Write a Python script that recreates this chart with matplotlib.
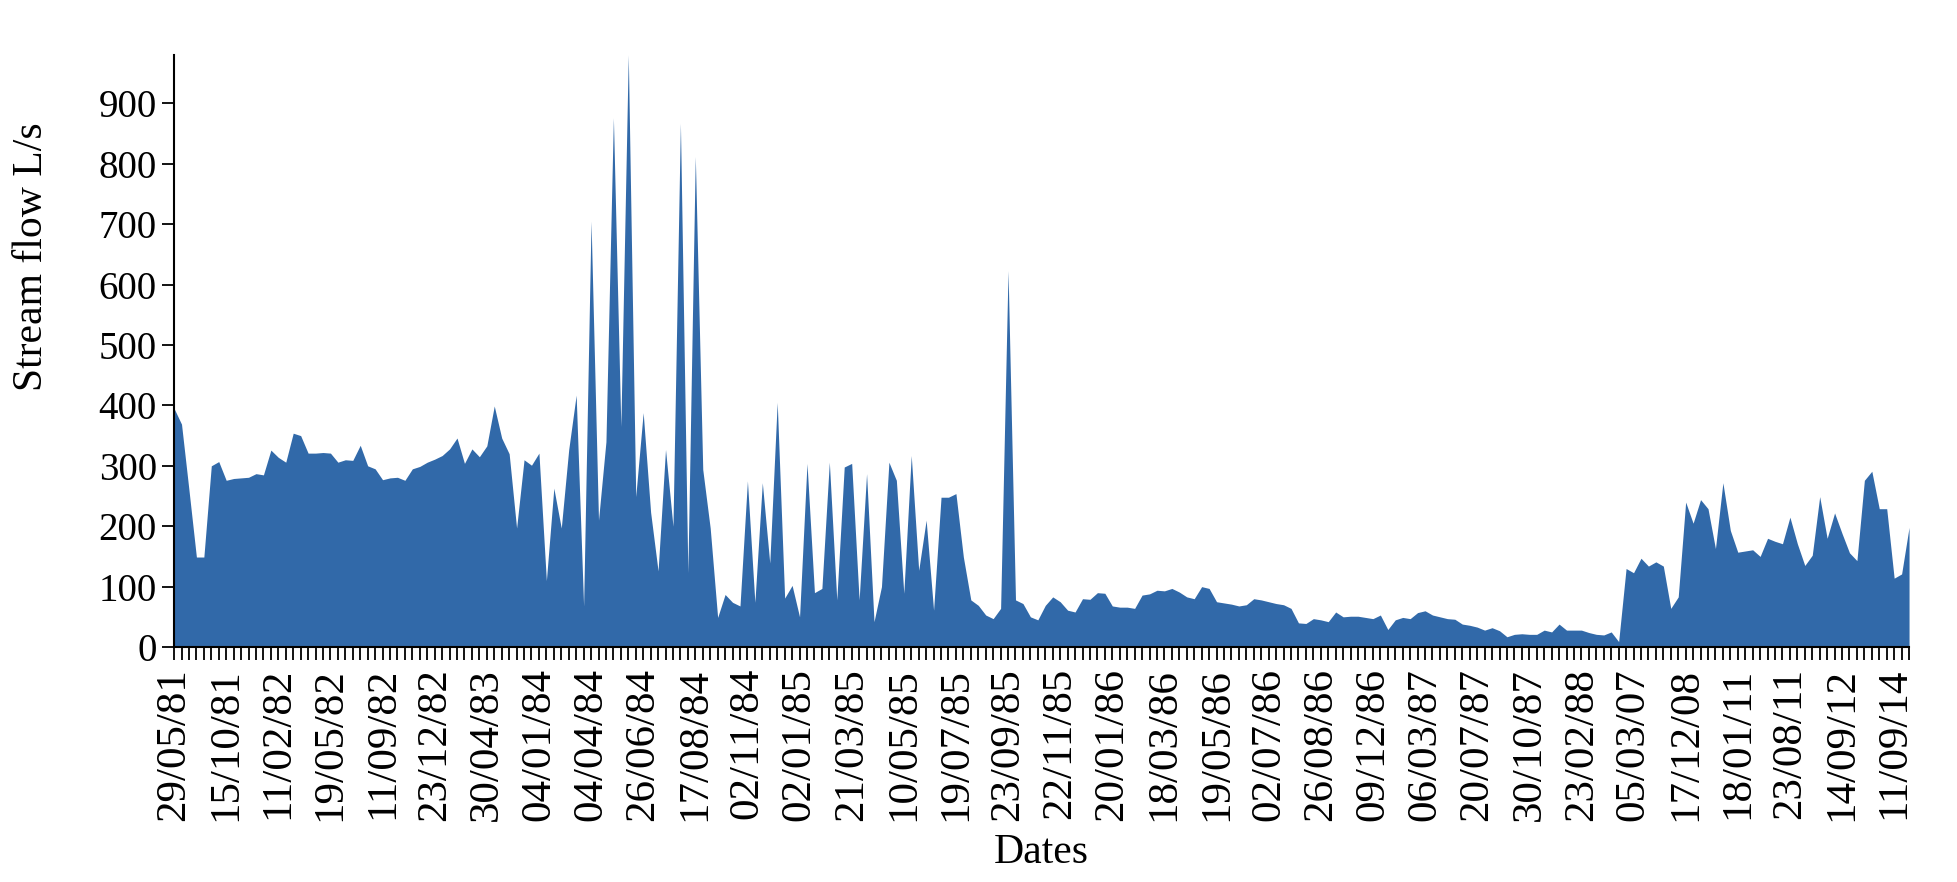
import numpy as np
import matplotlib as mpl
import matplotlib.pyplot as plt
from matplotlib.ticker import MultipleLocator

mpl.rcParams['font.family'] = 'Liberation Serif'

# stream flow (L/s), one value per sampling date
flow = [
    395, 369, 260, 149, 149, 300, 307, 276, 279, 280,
    281, 287, 285, 326, 314, 306, 354, 350, 321, 321,
    322, 321, 306, 310, 309, 334, 300, 295, 277, 280,
    281, 276, 295, 299, 306, 311, 317, 328, 346, 304,
    328, 315, 333, 399, 346, 320, 197, 310, 301, 321,
    110, 263, 197, 327, 417, 68, 705, 210, 340, 876,
    365, 980, 249, 388, 223, 126, 327, 200, 867, 123,
    812, 294, 197, 49, 87, 74, 68, 275, 74, 272,
    139, 405, 81, 102, 50, 304, 90, 97, 306, 78,
    298, 304, 78, 287, 42, 100, 306, 276, 89, 317,
    127, 210, 61, 248, 248, 254, 149, 78, 69, 53,
    47, 64, 623, 78, 72, 50, 45, 69, 83, 75,
    61, 58, 80, 79, 90, 89, 68, 66, 66, 64,
    86, 88, 94, 93, 97, 91, 83, 80, 100, 97,
    75, 73, 71, 68, 70, 80, 78, 75, 72, 70,
    64, 40, 39, 47, 45, 42, 58, 50, 51, 51,
    49, 47, 53, 29, 45, 49, 47, 57, 60, 53,
    50, 47, 46, 38, 36, 33, 28, 32, 27, 17,
    21, 22, 21, 21, 28, 25, 38, 28, 28, 28,
    24, 21, 20, 25, 9, 130, 123, 147, 134, 141,
    134, 64, 83, 240, 205, 244, 229, 163, 272, 193,
    157, 159, 161, 150, 180, 175, 171, 215, 171, 135,
    152, 249, 180, 222, 188, 156, 143, 276, 291, 229,
    229, 114, 121, 198,
]

# labelled dates (every 7th sample)
date_labels = [
    '29/05/81', '15/10/81', '11/02/82', '19/05/82', '11/09/82', '23/12/82',
    '30/04/83', '04/01/84', '04/04/84', '26/06/84', '17/08/84', '02/11/84',
    '02/01/85', '21/03/85', '10/05/85', '19/07/85', '23/09/85', '22/11/85',
    '20/01/86', '18/03/86', '19/05/86', '02/07/86', '26/08/86', '09/12/86',
    '06/03/87', '20/07/87', '30/10/87', '23/02/88', '05/03/07', '17/12/08',
    '18/01/11', '23/08/11', '14/09/12', '11/09/14',
]
label_step = 7

x = np.arange(len(flow))

fig = plt.figure(figsize=(19.58, 8.82), dpi=100)
ax = fig.add_axes([0.0889, 0.2664, 0.8861, 0.6712])

ax.fill_between(x, flow, color='#3169a9', linewidth=0)

ax.set_xlim(0, len(flow) - 1)
ax.set_ylim(0, 980)
ax.set_yticks(np.arange(0, 1000, 100))

ax.set_xticks(np.arange(len(date_labels)) * label_step)
ax.set_xticklabels(date_labels, rotation=90)
ax.xaxis.set_minor_locator(MultipleLocator(1))

ax.spines['top'].set_visible(False)
ax.spines['right'].set_visible(False)
for s in ['left', 'bottom']:
    ax.spines[s].set_linewidth(1.5)

ax.tick_params(axis='both', which='both', direction='out', length=9,
               width=1.3)
ax.tick_params(axis='x', labelsize=31, pad=6)
ax.tick_params(axis='y', labelsize=28)

# y label sits above the axis centre in the original
ax.set_ylabel('Stream flow L/s', fontsize=30)
ax.yaxis.set_label_coords(-0.071, 0.66)
ax.set_xlabel('Dates', fontsize=30, labelpad=9)

fig.savefig('out.png', dpi=100)
plt.close(fig)
